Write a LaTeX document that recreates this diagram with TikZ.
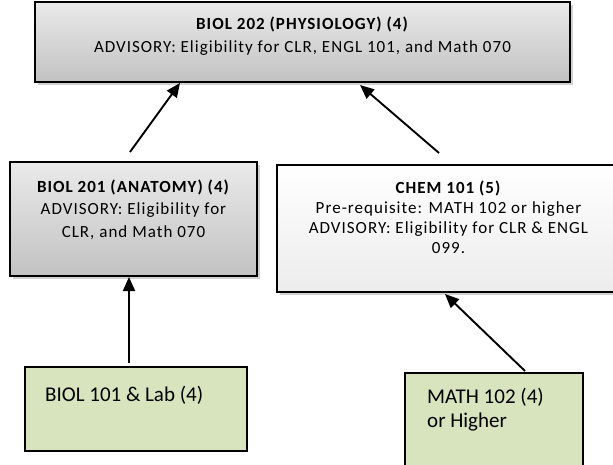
\documentclass[tikz,border=0pt]{standalone}
\usepackage{fontspec}
\setmainfont{Carlito}
\newfontfamily\spfont{Carlito}[LetterSpace=6]
\usetikzlibrary{arrows.meta,shadows,calc}
\definecolor{grtop}{RGB}{234,234,234}
\definecolor{grbot}{RGB}{194,194,194}
\definecolor{whbot}{RGB}{236,236,236}
\definecolor{leaf}{RGB}{215,228,189}
\begin{document}
\begin{tikzpicture}[x=1pt,y=-1pt,
 box/.style={draw=black, line width=2.2pt, anchor=north west, inner sep=0pt, outer sep=0pt,
   drop shadow={shadow xshift=2.5pt, shadow yshift=-3pt, opacity=0.3, fill=black!60}},
 graybox/.style={box, top color=grtop, bottom color=grbot},
 whitebox/.style={box, top color=white, bottom color=whbot},
 greenbox/.style={draw=black, line width=2.2pt, anchor=north west, inner sep=0pt, outer sep=0pt, fill=leaf},
 arr/.style={line width=1.9pt, -{Triangle[length=14pt,width=12pt]}},
 txt/.style={align=center, inner sep=0pt},
 gtxt/.style={align=left, anchor=west, inner sep=0pt, font=\fontsize{21}{24}\selectfont}]

\useasboundingbox (0,0) rectangle (613,464);
\clip (0,0) rectangle (613,464);

\node[graybox, minimum width=535pt, minimum height=80pt] (top) at (35,2) {};
\node[graybox, minimum width=247pt, minimum height=114pt] (b201) at (10,162) {};
\node[whitebox, minimum width=343pt, minimum height=127pt] (chem) at (277,165) {};
\node[greenbox, minimum width=222pt, minimum height=84pt] (b101) at (25,367) {};
\node[greenbox, minimum width=178pt, minimum height=110pt] (m102) at (405,373) {};

\node[txt, font=\spfont\fontsize{17}{23}\selectfont] (t202) at (302.5,36.5)
  {\textbf{BIOL 202 (PHYSIOLOGY) (4)}\\ADVISORY: Eligibility for CLR, ENGL 101, and Math 070};
\node[txt, font=\spfont\fontsize{17}{22.5}\selectfont] (t201) at (133.5,209.5)
  {\textbf{BIOL 201 (ANATOMY) (4)}\\ADVISORY: Eligibility for\\CLR, and Math 070};
\node[txt, font=\spfont\fontsize{17}{20}\selectfont] (tchem) at (448.5,217)
  {\textbf{CHEM 101 (5)}\\Pre-requisite: MATH 102 or higher\\ADVISORY: Eligibility for CLR \& ENGL\\099.};
\node[gtxt] (t101) at (45,395) {BIOL 101 \& Lab (4)};
\node[gtxt] (tm102) at (427,410) {MATH 102 (4)\\or Higher};

\draw[arr] ($(b201.north)+(-3.5,-10)$) -- ($(top.south west)+(145,1)$);
\draw[arr] ($(chem.north)+(-9.5,-12)$) -- ($(top.south west)+(325,3)$);
\draw[arr] ($(b101.north)+(-7,-4)$) -- ($(b101.north |- b201.south)+(-7,1)$);
\draw[arr] ($(m102.north)+(31,-2)$) -- ($(chem.south west)+(168,2)$);
\end{tikzpicture}
\end{document}
